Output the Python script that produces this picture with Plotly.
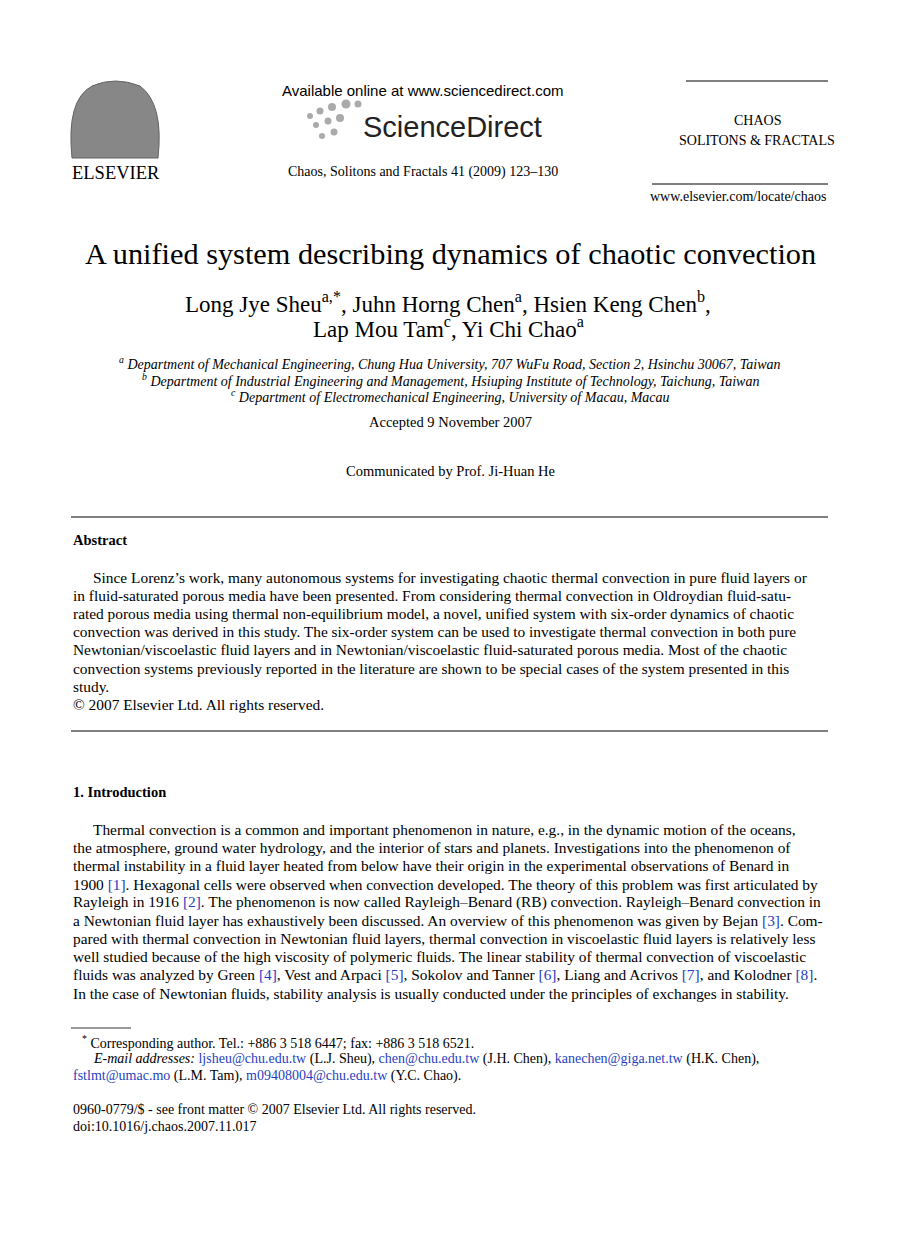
import plotly.graph_objects as go

W, H = 907, 1238
SERIF = "Liberation Serif"
SANS = "Liberation Sans"
BLUE = "#1f3fbf"

def c(t):
    return f"<span style='color:{BLUE}'>{t}</span>"

abstract_lines = [
    "Since Lorenz’s work, many autonomous systems for investigating chaotic thermal convection in pure fluid layers or",
    "in fluid-saturated porous media have been presented. From considering thermal convection in Oldroydian fluid-satu-",
    "rated porous media using thermal non-equilibrium model, a novel, unified system with six-order dynamics of chaotic",
    "convection was derived in this study. The six-order system can be used to investigate thermal convection in both pure",
    "Newtonian/viscoelastic fluid layers and in Newtonian/viscoelastic fluid-saturated porous media. Most of the chaotic",
    "convection systems previously reported in the literature are shown to be special cases of the system presented in this",
    "study.",
    "© 2007 Elsevier Ltd. All rights reserved.",
]
abstract_y = [577, 595, 613, 631, 649, 668, 686, 704]

intro_lines = [
    "Thermal convection is a common and important phenomenon in nature, e.g., in the dynamic motion of the oceans,",
    "the atmosphere, ground water hydrology, and the interior of stars and planets. Investigations into the phenomenon of",
    "thermal instability in a fluid layer heated from below have their origin in the experimental observations of Benard in",
    f"1900 {c('[1]')}. Hexagonal cells were observed when convection developed. The theory of this problem was first articulated by",
    f"Rayleigh in 1916 {c('[2]')}. The phenomenon is now called Rayleigh–Benard (RB) convection. Rayleigh–Benard convection in",
    f"a Newtonian fluid layer has exhaustively been discussed. An overview of this phenomenon was given by Bejan {c('[3]')}. Com-",
    "pared with thermal convection in Newtonian fluid layers, thermal convection in viscoelastic fluid layers is relatively less",
    "well studied because of the high viscosity of polymeric fluids. The linear stability of thermal convection of viscoelastic",
    f"fluids was analyzed by Green {c('[4]')}, Vest and Arpaci {c('[5]')}, Sokolov and Tanner {c('[6]')}, Liang and Acrivos {c('[7]')}, and Kolodner {c('[8]')}.",
    "In the case of Newtonian fluids, stability analysis is usually conducted under the principles of exchanges in stability.",
]
intro_y = [829, 847, 865, 884, 902, 920, 938, 956, 974, 993]

fig = go.Figure()
fig.update_layout(width=W, height=H, margin=dict(l=0, r=0, t=0, b=0),
                  paper_bgcolor="white", plot_bgcolor="white", showlegend=False)
fig.update_xaxes(range=[8, W + 8], visible=False)
fig.update_yaxes(range=[H + 8, 8], visible=False)

anns = []
def txt(x, y, t, size=15.3, font=SERIF, anchor="left", color="black"):
    anns.append(dict(x=x, y=y, xref="x", yref="y", text=t, showarrow=False,
                     xanchor=anchor, yanchor="middle",
                     font=dict(family=font, size=size, color=color)))

BODY = 15.4

# header
txt(116, 173, "ELSEVIER", 18.5, SERIF, "center")
txt(423, 90, "Available online at www.sciencedirect.com", 15, SANS, "center")
txt(452, 127, "ScienceDirect", 29, SANS, "center", "#222")
txt(423, 172, "Chaos, Solitons and Fractals 41 (2009) 123–130", 14, SERIF, "center")
txt(757, 120, "CHAOS", 14, SERIF, "center")
txt(757, 140, "SOLITONS & FRACTALS", 14, SERIF, "center")
txt(828, 196, "www.elsevier.com/locate/chaos", 14, SERIF, "right")

# title block
txt(450, 254, "A unified system describing dynamics of chaotic convection", 30.3, SERIF, "center")
txt(448, 302, "Long Jye Sheu<sup>a,*</sup>, Juhn Horng Chen<sup>a</sup>, Hsien Keng Chen<sup>b</sup>,", 23, SERIF, "center")
txt(448, 327, "Lap Mou Tam<sup>c</sup>, Yi Chi Chao<sup>a</sup>", 23, SERIF, "center")
txt(450, 363, "<i><sup>a</sup> Department of Mechanical Engineering, Chung Hua University, 707 WuFu Road, Section 2, Hsinchu 30067, Taiwan</i>", 14, SERIF, "center")
txt(450, 380, "<i><sup>b</sup> Department of Industrial Engineering and Management, Hsiuping Institute of Technology, Taichung, Taiwan</i>", 14, SERIF, "center")
txt(450, 396, "<i><sup>c</sup> Department of Electromechanical Engineering, University of Macau, Macau</i>", 14, SERIF, "center")
txt(450, 422, "Accepted 9 November 2007", 14.5, SERIF, "center")
txt(450, 471, "Communicated by Prof. Ji-Huan He", 14.5, SERIF, "center")

txt(71, 540, "<b>Abstract</b>", 14.5)
for i, (y, t) in enumerate(zip(abstract_y, abstract_lines)):
    txt(91 if i == 0 else 71, y, t, BODY)

txt(71, 792, "<b>1. Introduction</b>", 14.5)
for i, (y, t) in enumerate(zip(intro_y, intro_lines)):
    txt(91 if i == 0 else 71, y, t, BODY)

# footnotes
txt(80, 1042, "<sup>*</sup> Corresponding author. Tel.: +886 3 518 6447; fax: +886 3 518 6521.", 14)
txt(91, 1059, f"<i>E-mail addresses:</i> {c('ljsheu@chu.edu.tw')} (L.J. Sheu), {c('chen@chu.edu.tw')} (J.H. Chen), {c('kanechen@giga.net.tw')} (H.K. Chen),", 14)
txt(71, 1076, f"{c('fstlmt@umac.mo')} (L.M. Tam), {c('m09408004@chu.edu.tw')} (Y.C. Chao).", 14)
txt(71, 1109, "0960-0779/$ - see front matter © 2007 Elsevier Ltd. All rights reserved.", 14)
txt(71, 1126, "doi:10.1016/j.chaos.2007.11.017", 14)

fig.update_layout(annotations=anns)

shapes = []
def hline(x0, x1, y, w=1.2):
    shapes.append(dict(type="line", x0=x0, x1=x1, y0=y, y1=y, xref="x", yref="y",
                       line=dict(color="black", width=w)))
hline(686, 828, 81, 1)
hline(652, 828, 184, 1)
hline(71, 828, 517)
hline(71, 828, 731)
hline(71, 131, 1028, 0.8)
# ScienceDirect dots
for (dx, dy, r) in [(310, 116, 3), (320, 111, 3.5), (332, 107, 4), (346, 104, 4.5), (358, 104, 3.5),
                    (316, 125, 3), (328, 121, 3.5), (340, 118, 4), (334, 132, 3.5), (322, 136, 3)]:
    shapes.append(dict(type="circle", x0=dx - r, x1=dx + r, y0=dy - r, y1=dy + r,
                       xref="x", yref="y", fillcolor="#aaa", line=dict(width=0)))
# tree logo placeholder
shapes.append(dict(type="path", path="M 72 158 Q 66 100 92 86 Q 115 76 140 86 Q 164 104 158 158 Z",
                   xref="x", yref="y", fillcolor="#555", line=dict(color="#222", width=1), opacity=0.7))
fig.update_layout(shapes=shapes)

fig.write_html("out.html")
